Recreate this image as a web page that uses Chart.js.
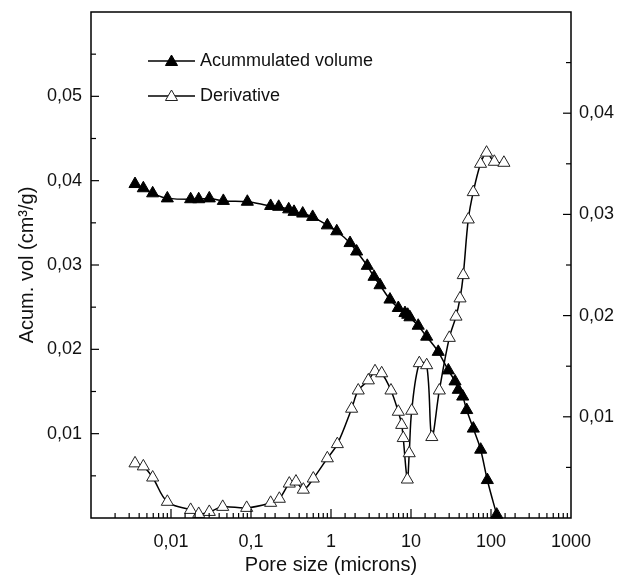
<!DOCTYPE html>
<html><head><meta charset="utf-8">
<script src="https://cdn.jsdelivr.net/npm/chart.js@4.4.1/dist/chart.umd.min.js"></script>
<style>html,body{margin:0;padding:0;background:#fff;}#wrap{width:619px;height:579px;}</style>
</head><body><div id="wrap"><canvas id="c" width="619" height="579"></canvas></div>
<script>
// ---- data ----
const poreSizeAcc = [0.00355,0.00451,0.0059,0.009,0.0176,0.0222,0.0301,0.0451,0.09,0.176,0.222,0.296,0.345,0.443,0.59,0.9,1.18,1.73,2.09,2.84,3.45,4.1,5.46,6.94,8.41,9.1,9.7,12.3,15.7,21.9,29.3,35.5,39,44.3,49.7,60.1,74.3,90,117.8];
const acumVolume = [0.0396,0.0391,0.0385,0.0379,0.0378,0.0378,0.0379,0.0376,0.0375,0.0370,0.0369,0.0366,0.0363,0.0361,0.0357,0.0347,0.0340,0.0326,0.0316,0.0299,0.0286,0.0276,0.0259,0.0249,0.0243,0.0241,0.0238,0.0228,0.0215,0.0197,0.0175,0.0162,0.0152,0.0144,0.0128,0.0106,0.0081,0.0045,0.0004];
const poreSizeDer = [0.00355,0.00451,0.0059,0.009,0.0176,0.0222,0.0301,0.0443,0.0883,0.176,0.226,0.301,0.365,0.451,0.601,0.9,1.2,1.81,2.19,2.93,3.55,4.3,5.62,6.94,7.65,8.0,9.0,9.5,10.2,12.7,15.7,18.2,22.6,30.1,36.5,41,45,52,60,74,88,110,145];
const derivative = [0.0054,0.0051,0.0040,0.0016,0.0008,0.0004,0.0006,0.0011,0.0010,0.0015,0.0019,0.0034,0.0036,0.0028,0.0039,0.0059,0.0073,0.0108,0.0126,0.0136,0.0145,0.0143,0.0126,0.0105,0.0092,0.0079,0.0038,0.0064,0.0106,0.0153,0.0151,0.0080,0.0126,0.0178,0.0199,0.0217,0.0240,0.0295,0.0322,0.0350,0.0361,0.0352,0.0351];
const seriesNames = ['Acummulated volume','Derivative'];
const xTickValues = [0.01,0.1,1,10,100,1000];
const xTickLabels = ['0,01','0,1','1','10','100','1000'];
const yLeftTickValues = [0.01,0.02,0.03,0.04,0.05];
const yRightTickValues = [0.01,0.02,0.03,0.04];
const xTitle = 'Pore size (microns)';
const yTitle = 'Acum. vol (cm³/g)';

// ---- drawing ----
const FONT = "'Liberation Sans', Arial, sans-serif";
const TICK_FS = 18, TITLE_FS = 20, LEG_FS = 18;
Chart.defaults.font.family = FONT;
Chart.defaults.color = '#111';

function commaFmt(v){ return v.toFixed(2).replace('.', ','); }
function listLabel(list, fmt){
  return (v) => { const t = list.find(x => Math.abs(x - v) < 1e-9); return t === undefined ? '' : fmt(t); };
}
function tri(ctx, x, y, r){
  ctx.beginPath();
  ctx.moveTo(x, y - r);
  ctx.lineTo(x + 0.866 * r, y + 0.5 * r);
  ctx.lineTo(x - 0.866 * r, y + 0.5 * r);
  ctx.closePath();
}
const noGrid = { display: false, drawTicks: false, tickLength: 0 };

const framePlugin = {
  id: 'frame',
  afterDatasetsDraw(chart){
    const {ctx, chartArea: a, scales} = chart;
    ctx.save();
    ctx.strokeStyle = '#000';
    ctx.lineWidth = 1.5;
    ctx.strokeRect(a.left, a.top, a.right - a.left, a.bottom - a.top);
    ctx.lineWidth = 1.2;
    const xs = scales.x;
    xs.ticks.forEach(t => {
      const p = xs.getPixelForValue(t.value);
      if (p < a.left + 1 || p > a.right - 1) return;
      const lg = Math.log10(t.value);
      const major = Math.abs(lg - Math.round(lg)) < 1e-6;
      const len = major ? 9 : 5;
      ctx.beginPath(); ctx.moveTo(p, a.bottom); ctx.lineTo(p, a.bottom - len); ctx.stroke();
    });
    const drawY = (sc, fromLeft) => {
      sc.ticks.forEach(t => {
        const p = sc.getPixelForValue(t.value);
        if (p < a.top + 1 || p > a.bottom - 1) return;
        const major = Math.abs(t.value * 100 - Math.round(t.value * 100)) < 1e-6;
        const len = major ? 8 : 5;
        const x0 = fromLeft ? a.left : a.right;
        const x1 = fromLeft ? a.left + len : a.right - len;
        ctx.beginPath(); ctx.moveTo(x0, p); ctx.lineTo(x1, p); ctx.stroke();
      });
    };
    drawY(scales.y, true);
    drawY(scales.y2, false);
    ctx.restore();
  },
  afterDraw(chart){
    const ctx = chart.ctx;
    const rows = [61, 96];
    ctx.save();
    chart.data.datasets.forEach((ds, i) => {
      const y = rows[i];
      ctx.strokeStyle = '#000'; ctx.lineWidth = 1.5;
      ctx.beginPath(); ctx.moveTo(148, y); ctx.lineTo(195, y); ctx.stroke();
      tri(ctx, 171.5, y + 1, 7);
      ctx.fillStyle = ds.pointBackgroundColor; ctx.fill();
      ctx.lineWidth = 1; ctx.strokeStyle = ds.pointBorderColor; ctx.stroke();
      ctx.fillStyle = '#111';
      ctx.font = LEG_FS + 'px ' + FONT;
      ctx.textBaseline = 'middle'; ctx.textAlign = 'left';
      ctx.fillText(ds.label, 200, y);
    });
    ctx.restore();
  }
};

function fitV(width){
  return (s) => { s.width = width; s.paddingTop = 0; s.paddingBottom = 0; };
}

new Chart(document.getElementById('c'), {
  type: 'scatter',
  data: {
    datasets: [
      { label: seriesNames[0], data: poreSizeAcc.map((x, i) => ({x, y: acumVolume[i]})), yAxisID: 'y',
        showLine: true, borderColor: '#000', borderWidth: 1.5, cubicInterpolationMode: 'monotone',
        pointStyle: 'triangle', pointRadius: 7, pointBackgroundColor: '#000', pointBorderColor: '#000', pointBorderWidth: 1, clip: 12 },
      { label: seriesNames[1], data: poreSizeDer.map((x, i) => ({x, y: derivative[i]})), yAxisID: 'y2',
        showLine: true, borderColor: '#000', borderWidth: 1.5, tension: 0.35,
        pointStyle: 'triangle', pointRadius: 7, pointBackgroundColor: '#fff', pointBorderColor: '#222', pointBorderWidth: 1, clip: 12 }
    ]
  },
  options: {
    responsive: false, animation: false, devicePixelRatio: 1,
    layout: { padding: { top: 12, left: 0, right: 0, bottom: 0 } },
    plugins: { legend: { display: false }, tooltip: { enabled: false } },
    scales: {
      x: { type: 'logarithmic', position: 'bottom', min: 0.001, max: 1000,
        grid: noGrid, border: { display: false },
        ticks: { autoSkip: false, maxRotation: 0, minRotation: 0, padding: 13, font: { size: TICK_FS }, color: '#111',
          callback: (v) => { const i = xTickValues.findIndex(t => Math.abs(v / t - 1) < 1e-6); return i >= 0 ? xTickLabels[i] : ''; } },
        title: { display: true, text: xTitle, font: { size: TITLE_FS }, color: '#111', padding: { top: 0, bottom: 2 } },
        afterFit: (s) => { s.height = 61; } },
      y: { type: 'linear', position: 'left', min: 0, max: 0.06,
        grid: noGrid, border: { display: false },
        ticks: { stepSize: 0.005, autoSkip: false, padding: 9, font: { size: TICK_FS }, color: '#111', callback: listLabel(yLeftTickValues, commaFmt) },
        title: { display: true, text: yTitle, font: { size: TITLE_FS }, color: '#111', padding: { top: 15, bottom: 0 } },
        afterFit: fitV(91) },
      y2: { type: 'linear', position: 'right', min: 0, max: 0.05,
        grid: noGrid, border: { display: false },
        ticks: { stepSize: 0.005, autoSkip: false, padding: 8, font: { size: TICK_FS }, color: '#111', callback: listLabel(yRightTickValues, commaFmt) },
        afterFit: fitV(48) }
    }
  },
  plugins: [framePlugin]
});
</script>
</body></html>
